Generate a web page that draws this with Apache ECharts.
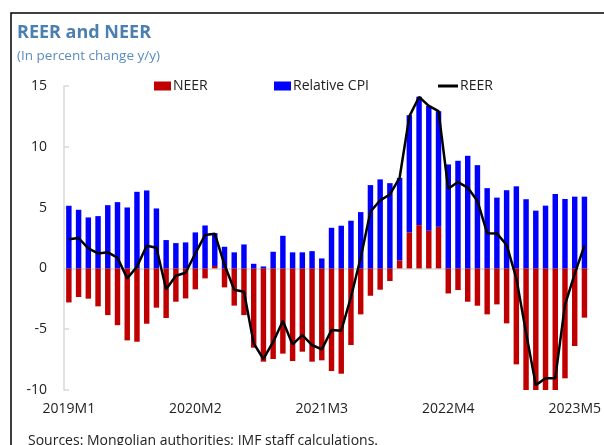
<!DOCTYPE html>
<html>
<head>
<meta charset="utf-8">
<script src="https://cdn.jsdelivr.net/npm/echarts@6/dist/echarts.min.js"></script>
<style>
  html, body { margin: 0; padding: 0; background: #fff; }
  #chart { width: 604px; height: 445px; }
</style>
</head>
<body>
<div id="chart"></div>
<script>
// Monthly periods, 2019M1 .. 2023M6
const months = [];
for (let y = 2019; y <= 2023; y++) {
  for (let m = 1; m <= 12; m++) {
    if (y === 2023 && m > 6) break;
    months.push(y + 'M' + m);
  }
}

// Contribution of the nominal effective rate (y/y, %)
const neer = [
  -2.8, -2.35, -2.49, -3.12, -3.84, -4.67, -5.92, -6.03, -4.55, -3.23, -4.08, -2.74,
  -2.47, -1.72, -0.82, 0.2, -1.56, -3.06, -3.84, -6.52, -7.67, -7.45, -7.01, -7.62,
  -6.85, -7.67, -7.56, -8.44, -8.66, -6.3, -3.78, -2.25, -1.75, -1.04, 0.66, 2.96,
  3.56, 3.1, 3.42, -2.06, -1.78, -2.74, -3.07, -3.78, -2.96, -4.52, -7.89, -11.0,
  -14.0, -14.2, -15.1, -9.04, -6.38, -4.05
];

// Contribution of relative prices (y/y, %)
const relCpi = [
  5.15, 4.82, 4.19, 4.3, 5.2, 5.45, 5.01, 6.3, 6.41, 4.93, 2.33, 2.08,
  2.14, 2.96, 3.53, 2.7, 1.78, 1.32, 1.97, 0.38, 0.16, 1.37, 2.68, 1.32,
  1.32, 1.42, 0.82, 3.34, 3.51, 3.92, 4.63, 6.85, 7.32, 7.01, 6.79, 9.64,
  10.55, 10.27, 9.51, 8.55, 8.85, 9.26, 8.49, 6.6, 5.82, 6.43, 6.75, 5.69,
  4.75, 5.16, 6.12, 5.71, 5.9, 5.9
];

// Real effective exchange rate (y/y, %)
const reer = [
  2.4, 2.5, 1.65, 1.23, 1.32, 0.88, -0.82, 0.14, 1.86, 1.7, -1.72, -0.6,
  -0.36, 1.23, 2.74, 2.85, 0.3, -1.75, -1.92, -6.16, -7.45, -6.05, -4.33, -6.25,
  -5.48, -6.3, -6.66, -5.07, -5.12, -2.35, 0.88, 4.66, 5.6, 6.08, 7.45, 12.5,
  14.1, 13.37, 12.93, 6.55, 7.1, 6.65, 5.55, 2.9, 2.88, 1.93, -0.82, -5.3,
  -9.6, -9.04, -9.04, -3.0, -0.45, 1.87
];

const yTicks = { min: -10, max: 15, step: 5 };

const FONT = 'Open Sans';
const TXT = '#222';

const chart = echarts.init(document.getElementById('chart'), null, { renderer: 'canvas' });

const legendBase = {
  top: 79,
  itemWidth: 17,
  itemHeight: 9,
  itemGap: 0,
  textStyle: { fontFamily: FONT, fontSize: 14, color: TXT, padding: [0, 0, 0, -3] },
  padding: 0,
  selectedMode: false
};

chart.setOption({
  animation: false,
  backgroundColor: '#fff',
  textStyle: { fontFamily: FONT },
  title: [
    {
      text: 'REER and NEER',
      left: 17, top: 24, padding: 0,
      textStyle: { fontFamily: FONT, fontSize: 18, fontWeight: 'bold', color: '#4a7fb0' }
    },
    {
      text: '(In percent change y/y)',
      left: 17, top: 49, padding: 0,
      textStyle: { fontFamily: FONT, fontSize: 13.5, fontWeight: 'normal', color: '#5b8cc0' }
    },
    {
      text: 'Sources: Mongolian authorities; IMF staff calculations.',
      left: 28, top: 434, padding: 0,
      textStyle: { fontFamily: FONT, fontSize: 14, fontWeight: 'normal', color: TXT }
    }
  ],
  legend: [
    Object.assign({}, legendBase, { left: 154, data: [{ name: 'NEER', icon: 'rect' }] }),
    Object.assign({}, legendBase, { left: 274, data: [{ name: 'Relative CPI', icon: 'rect' }] }),
    Object.assign({}, legendBase, {
      left: 438, itemWidth: 20, itemHeight: 3,
      data: [{ name: 'REER', icon: 'rect', itemStyle: { color: '#000' } }]
    })
  ],
  grid: { left: 64, right: 12.6, top: 86, bottom: 55, containLabel: false },
  xAxis: {
    type: 'category',
    data: months,
    boundaryGap: true,
    axisLine: { show: false, onZero: false },
    axisTick: { show: false },
    axisLabel: {
      interval: 12,
      margin: 12,
      fontFamily: FONT, fontSize: 14, color: TXT
    },
    splitLine: { show: false }
  },
  yAxis: {
    type: 'value',
    min: yTicks.min, max: yTicks.max, interval: yTicks.step,
    axisLine: { show: true, lineStyle: { color: '#d9d9d9', width: 1.5 } },
    axisTick: { show: true, inside: true, length: 5, lineStyle: { color: '#d9d9d9', width: 1.5 } },
    axisLabel: { margin: 17, fontFamily: FONT, fontSize: 14, color: TXT },
    splitLine: { show: false }
  },
  series: [
    {
      name: 'NEER',
      type: 'bar',
      stack: 'eer',
      barWidth: '56%',
      itemStyle: { color: '#c00000' },
      data: neer,
      markLine: {
        silent: true,
        symbol: 'none',
        label: { show: false },
        lineStyle: { color: '#d9d9d9', width: 1.5, type: 'solid' },
        data: [{ yAxis: 0 }],
        z: 1
      }
    },
    {
      name: 'Relative CPI',
      type: 'bar',
      stack: 'eer',
      barWidth: '56%',
      itemStyle: { color: '#0000ff' },
      data: relCpi
    },
    {
      name: 'REER',
      type: 'line',
      data: reer,
      symbol: 'none',
      showSymbol: false,
      lineStyle: { color: '#000', width: 2.5 },
      itemStyle: { color: '#000' },
      z: 5
    }
  ],
  graphic: [
    {
      type: 'rect',
      shape: { x: 11, y: 13, width: 700, height: 600 },
      style: { fill: 'none', stroke: '#000', lineWidth: 1.5 },
      silent: true
    }
  ]
});
</script>
</body>
</html>
